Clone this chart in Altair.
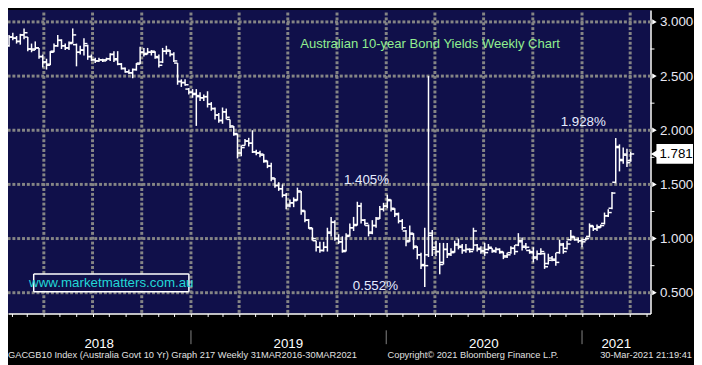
import altair as alt
import numpy as np
import pandas as pd

# ---------------- data (weekly OHLC, week ending Fridays) ----------------
first_week = "2018-01-26"
opens = [2.78, 2.86, 2.85, 2.82, 2.88, 2.86, 2.75, 2.75, 2.76, 2.68,
         2.63, 2.61, 2.73, 2.78, 2.83, 2.78, 2.76, 2.81, 2.79, 2.72,
         2.74, 2.78, 2.68, 2.65, 2.64, 2.65, 2.65, 2.66, 2.70, 2.66,
         2.61, 2.57, 2.54, 2.53, 2.56, 2.62, 2.72, 2.71, 2.72, 2.72,
         2.67, 2.63, 2.73, 2.73, 2.70, 2.62, 2.45, 2.44, 2.38, 2.35,
         2.34, 2.31, 2.30, 2.31, 2.24, 2.20, 2.14, 2.09, 2.17, 2.10,
         2.03, 1.96, 1.79, 1.86, 1.90, 1.88, 1.80, 1.79, 1.77, 1.71,
         1.67, 1.55, 1.49, 1.46, 1.40, 1.31, 1.33, 1.36, 1.43, 1.25,
         1.17, 1.09, 0.98, 0.92, 0.89, 0.92, 1.06, 1.15, 1.00, 0.97,
         0.89, 1.03, 1.10, 1.13, 1.30, 1.17, 1.12, 1.06, 1.12, 1.19,
         1.27, 1.30, 1.35, 1.27, 1.22, 1.16, 1.07, 0.98, 1.04, 0.92,
         0.85, 0.76, 0.85, 1.05, 0.92, 0.88, 0.78, 0.90, 0.86, 0.88,
         0.95, 0.93, 0.89, 0.90, 0.90, 0.94, 0.91, 0.89, 0.90, 0.91,
         0.88, 0.90, 0.87, 0.84, 0.87, 0.91, 0.94, 0.98, 0.93, 0.89,
         0.88, 0.83, 0.86, 0.86, 0.77, 0.82, 0.80, 0.87, 0.94, 0.91,
         0.99, 1.01, 0.99, 0.98, 0.99, 1.02, 1.11, 1.09, 1.11, 1.14,
         1.21, 1.28, 1.52, 1.84, 1.72, 1.77, 1.72]
highs = [2.88, 2.90, 2.87, 2.89, 2.94, 2.86, 2.80, 2.82, 2.76, 2.70,
         2.66, 2.73, 2.80, 2.88, 2.84, 2.80, 2.82, 2.94, 2.80, 2.78,
         2.85, 2.79, 2.70, 2.67, 2.67, 2.66, 2.67, 2.71, 2.73, 2.73,
         2.62, 2.58, 2.56, 2.57, 2.62, 2.77, 2.76, 2.76, 2.74, 2.73,
         2.70, 2.76, 2.78, 2.74, 2.72, 2.62, 2.47, 2.47, 2.39, 2.38,
         2.38, 2.35, 2.33, 2.36, 2.26, 2.21, 2.16, 2.21, 2.20, 2.10,
         2.04, 1.97, 1.86, 1.92, 1.93, 2.00, 1.82, 1.81, 1.78, 1.72,
         1.70, 1.56, 1.52, 1.50, 1.42, 1.36, 1.38, 1.47, 1.44, 1.26,
         1.18, 1.10, 0.98, 0.97, 0.97, 1.10, 1.20, 1.17, 1.04, 1.02,
         1.05, 1.14, 1.20, 1.34, 1.33, 1.18, 1.13, 1.17, 1.20, 1.30,
         1.33, 1.405, 1.36, 1.28, 1.24, 1.18, 1.08, 1.12, 1.05, 0.93,
         0.87, 1.10, 2.50, 1.08, 0.98, 0.96, 0.96, 0.96, 0.91, 0.98,
         1.00, 0.95, 0.95, 0.91, 1.10, 0.95, 0.93, 0.96, 0.95, 0.91,
         0.92, 0.91, 0.88, 0.87, 0.93, 0.94, 1.05, 1.01, 0.96, 0.90,
         0.92, 0.89, 0.91, 0.87, 0.86, 0.84, 0.87, 0.99, 0.96, 0.98,
         1.08, 1.02, 1.01, 1.00, 1.01, 1.14, 1.12, 1.13, 1.13, 1.24,
         1.27, 1.43, 1.928, 1.87, 1.84, 1.83, 1.80]
lows = [2.77, 2.83, 2.80, 2.79, 2.84, 2.73, 2.72, 2.74, 2.66, 2.58,
        2.56, 2.60, 2.72, 2.77, 2.75, 2.74, 2.74, 2.80, 2.59, 2.70,
        2.69, 2.65, 2.64, 2.62, 2.63, 2.63, 2.64, 2.64, 2.63, 2.60,
        2.56, 2.53, 2.52, 2.48, 2.55, 2.61, 2.68, 2.70, 2.69, 2.66,
        2.58, 2.62, 2.70, 2.68, 2.63, 2.42, 2.40, 2.41, 2.33, 2.30,
        2.04, 2.27, 2.27, 2.21, 2.18, 2.10, 2.07, 2.06, 2.10, 2.02,
        1.95, 1.74, 1.76, 1.86, 1.85, 1.79, 1.77, 1.75, 1.70, 1.65,
        1.53, 1.47, 1.44, 1.38, 1.27, 1.29, 1.29, 1.35, 1.22, 1.15,
        1.09, 0.98, 0.88, 0.87, 0.88, 0.88, 1.02, 0.98, 0.95, 0.87,
        0.88, 1.02, 1.07, 1.12, 1.14, 1.12, 1.02, 1.04, 1.10, 1.18,
        1.25, 1.28, 1.25, 1.20, 1.14, 1.08, 0.93, 0.97, 0.90, 0.81,
        0.72, 0.552, 0.83, 0.84, 0.84, 0.67, 0.76, 0.82, 0.84, 0.87,
        0.90, 0.86, 0.87, 0.87, 0.89, 0.88, 0.86, 0.84, 0.89, 0.87,
        0.87, 0.86, 0.81, 0.82, 0.86, 0.85, 0.93, 0.89, 0.90, 0.86,
        0.78, 0.80, 0.85, 0.72, 0.76, 0.79, 0.75, 0.86, 0.86, 0.90,
        0.98, 0.98, 0.96, 0.92, 0.98, 1.01, 1.07, 1.07, 1.10, 1.13,
        1.20, 1.27, 1.51, 1.62, 1.69, 1.66, 1.71]
closes = [2.86, 2.85, 2.82, 2.88, 2.90, 2.75, 2.74, 2.76, 2.68, 2.63,
          2.60, 2.72, 2.78, 2.83, 2.78, 2.76, 2.80, 2.88, 2.72, 2.74,
          2.80, 2.68, 2.65, 2.64, 2.65, 2.64, 2.66, 2.70, 2.65, 2.61,
          2.57, 2.54, 2.53, 2.56, 2.61, 2.72, 2.70, 2.72, 2.73, 2.68,
          2.60, 2.73, 2.74, 2.70, 2.64, 2.45, 2.44, 2.42, 2.35, 2.33,
          2.32, 2.30, 2.31, 2.24, 2.20, 2.14, 2.09, 2.17, 2.12, 2.04,
          1.97, 1.79, 1.84, 1.90, 1.88, 1.80, 1.79, 1.78, 1.72, 1.67,
          1.56, 1.49, 1.46, 1.40, 1.30, 1.33, 1.35, 1.44, 1.26, 1.17,
          1.10, 1.00, 0.92, 0.89, 0.92, 1.05, 1.15, 1.00, 0.97, 0.88,
          1.02, 1.10, 1.12, 1.30, 1.17, 1.14, 1.05, 1.12, 1.18, 1.27,
          1.30, 1.36, 1.28, 1.23, 1.16, 1.10, 0.97, 1.05, 0.93, 0.85,
          0.75, 0.75, 1.03, 0.90, 0.88, 0.76, 0.90, 0.85, 0.87, 0.94,
          0.92, 0.89, 0.90, 0.88, 1.07, 0.90, 0.88, 0.87, 0.92, 0.89,
          0.90, 0.88, 0.83, 0.85, 0.91, 0.88, 0.97, 0.92, 0.92, 0.87,
          0.82, 0.86, 0.88, 0.74, 0.80, 0.81, 0.78, 0.95, 0.88, 0.95,
          1.02, 0.99, 0.98, 0.97, 1.00, 1.12, 1.09, 1.10, 1.12, 1.21,
          1.24, 1.42, 1.85, 1.73, 1.78, 1.70, 1.781]

y_ticks = [0.5, 1.0, 1.5, 2.0, 2.5, 3.0]
y_minor = [0.75, 1.25, 1.75, 2.25, 2.75]
years = [2018, 2019, 2020, 2021]
last_price = [1.781]

ann_labels = ["1.928%", "1.405%", "0.552%"]
ann_dates = ["2021-03-05", "2020-01-03", "2020-03-13"]
ann_values = [1.928, 1.405, 0.552]

title_text = "Australian 10-year Bond Yields Weekly Chart"
site_text = "www.marketmatters.com.au"
footer_left = "GACGB10 Index (Australia Govt 10 Yr) Graph 217  Weekly 31MAR2016-30MAR2021"
footer_mid = "Copyright\u00a9 2021 Bloomberg Finance L.P."
footer_right = "30-Mar-2021 21:19:41"

# ---------------- layout ----------------
W, H = 650, 307
NAVY = "#10104a"
GRID = "#858585"
FONT = "Liberation Sans"

dom_start = pd.Timestamp("2018-01-24")
dom_end = pd.Timestamp("2021-05-09")
Y_LO, Y_HI = 0.308, 3.1095

def dt(ts):
    ts = pd.Timestamp(ts)
    return alt.DateTime(year=ts.year, month=ts.month, date=ts.day)

xs = alt.Scale(domain=[dt(dom_start), dt(dom_end)])
ys = alt.Scale(domain=[Y_LO, Y_HI], zero=False, nice=False)

weeks = pd.date_range(first_week, periods=len(closes), freq="7D")
df = pd.DataFrame({"date": weeks, "open": opens, "high": highs, "low": lows, "close": closes})
quarters = pd.date_range("2018-04-01", "2021-04-01", freq="QS")

# dotted grid as small squares (horizontal at labelled yields, vertical at quarters)
dot_days = pd.date_range(dom_start + pd.Timedelta(days=2), dom_end, freq="9D")
h_dots = pd.DataFrame([(d, v) for v in y_ticks for d in dot_days], columns=["d", "v"])
dot_vals = np.arange(Y_LO + 0.02, Y_HI, 0.045)
v_dots = pd.DataFrame([(q, v) for q in quarters for v in dot_vals], columns=["d", "v"])
dots = pd.concat([h_dots, v_dots], ignore_index=True)

x_axis = alt.Axis(title=None, labels=False, grid=False, domainColor="white", domainWidth=1.5,
                  tickColor="white", tickSize=3, tickWidth=1,
                  tickCount=alt.TimeIntervalStep(interval="month", step=1))
y_axis = alt.Axis(title=None, orient="right", values=y_ticks, format=".3f", grid=False,
                  domainColor="white", domainWidth=1.5, ticks=False, labelColor="#e8e8f4",
                  labelFont=FONT, labelFontSize=13.5, labelPadding=9)

grid = alt.Chart(dots).mark_square(size=9, color=GRID, opacity=1).encode(
    x=alt.X("d:T", scale=xs, axis=x_axis), y=alt.Y("v:Q", scale=ys, axis=y_axis)
)

base = alt.Chart(df)
hl = base.mark_rule(color="white", strokeWidth=1.5).encode(
    x=alt.X("date:T", scale=xs), y=alt.Y("low:Q", scale=ys), y2="high:Q",
)
op = base.mark_rule(color="white", strokeWidth=1.5, xOffset=-3.5, x2Offset=0).encode(
    x=alt.X("date:T", scale=xs), x2="date:T", y=alt.Y("open:Q", scale=ys)
)
cl = base.mark_rule(color="white", strokeWidth=1.5, xOffset=0, x2Offset=3.5).encode(
    x=alt.X("date:T", scale=xs), x2="date:T", y=alt.Y("close:Q", scale=ys)
)

ann = pd.DataFrame({"t": ann_labels, "d": pd.to_datetime(ann_dates), "v": ann_values})
ann_style = dict(color="#e6ecff", font=FONT, fontSize=13.5, baseline="middle")
a1 = alt.Chart(ann.iloc[[0]]).mark_text(align="right", dx=-10, dy=-16, **ann_style).encode(
    x=alt.X("d:T", scale=xs), y=alt.Y("v:Q", scale=ys), text="t:N")
a2 = alt.Chart(ann.iloc[[1]]).mark_text(align="center", dx=-21, dy=-15, **ann_style).encode(
    x=alt.X("d:T", scale=xs), y=alt.Y("v:Q", scale=ys), text="t:N")
a3 = alt.Chart(ann.iloc[[2]]).mark_text(align="right", dx=-27, dy=-1, **ann_style).encode(
    x=alt.X("d:T", scale=xs), y=alt.Y("v:Q", scale=ys), text="t:N")

# right-axis markers
major = alt.Chart(pd.DataFrame({"v": y_ticks})).mark_point(
    shape="triangle-right", filled=True, color="white", size=28, opacity=1
).encode(x=alt.value(W + 4), y=alt.Y("v:Q", scale=ys))
minor = alt.Chart(pd.DataFrame({"v": y_minor})).mark_rule(color="white", strokeWidth=1).encode(
    x=alt.value(W), x2=alt.value(W + 4), y=alt.Y("v:Q", scale=ys))

lp = pd.DataFrame({"v": last_price, "t": [f"{last_price[0]:.3f}"]})
lp_box = alt.Chart(lp).mark_rect(color="white", yOffset=-10, y2Offset=10).encode(
    x=alt.value(W + 6), x2=alt.value(W + 43), y=alt.Y("v:Q", scale=ys), y2="v:Q")
lp_tip = alt.Chart(lp).mark_point(shape="triangle-left", filled=True, color="white",
                                  size=120, opacity=1).encode(
    x=alt.value(W + 5), y=alt.Y("v:Q", scale=ys))
lp_text = alt.Chart(lp).mark_text(
    align="left", baseline="middle", color="black", font=FONT, fontSize=13.5
).encode(x=alt.value(W + 9), y=alt.Y("v:Q", scale=ys), text="t:N")

# title and watermark
one = lambda s: pd.DataFrame({"t": [s]})
title = alt.Chart(one(title_text)).mark_text(
    align="center", baseline="alphabetic", color="#90ee90", font=FONT, fontSize=13.2
).encode(x=alt.value(427), y=alt.value(38), text="t:N")
bx0, bx1, by0, by1 = 26, 183, 267, 285
box_style = dict(color="white", strokeWidth=1.5)
b_top = alt.Chart(one("b")).mark_rule(**box_style).encode(
    x=alt.value(bx0), x2=alt.value(bx1), y=alt.value(by0))
b_bot = alt.Chart(one("b")).mark_rule(**box_style).encode(
    x=alt.value(bx0), x2=alt.value(bx1), y=alt.value(by1))
b_lft = alt.Chart(one("b")).mark_rule(**box_style).encode(
    x=alt.value(bx0), y=alt.value(by0), y2=alt.value(by1))
b_rgt = alt.Chart(one("b")).mark_rule(**box_style).encode(
    x=alt.value(bx1), y=alt.value(by0), y2=alt.value(by1))
site_bg = alt.Chart(one("b")).mark_rect(color=NAVY).encode(
    x=alt.value(bx0 + 1), x2=alt.value(bx1 - 1), y=alt.value(by0 + 1), y2=alt.value(by1 - 1))
site = alt.Chart(one(site_text)).mark_text(
    align="center", baseline="middle", color="#22d6d6", font=FONT, fontSize=13.5
).encode(x=alt.value(104.5), y=alt.value(276.5), text="t:N")

# footer: year labels, separators, info line
yr_df = pd.DataFrame({"y": [str(y) for y in years]})
yr_df["mid"] = [
    max(dom_start, pd.Timestamp(f"{y}-01-01"))
    + (min(dom_end, pd.Timestamp(f"{y}-12-31")) - max(dom_start, pd.Timestamp(f"{y}-01-01"))) / 2
    for y in years
]
yr_lbl = alt.Chart(yr_df).mark_text(
    align="center", baseline="middle", color="white", font=FONT, fontSize=13.5
).encode(x=alt.X("mid:T", scale=xs), y=alt.value(H + 31), text="y:N")
seps = alt.Chart(pd.DataFrame({"d": pd.to_datetime([f"{y}-01-01" for y in years[1:]])})).mark_rule(
    color=GRID, strokeWidth=1
).encode(x=alt.X("d:T", scale=xs), y=alt.value(H + 17), y2=alt.value(H + 31))

foot_style = dict(baseline="alphabetic", color="#e0e0e0", font=FONT, fontSize=9.4)
f1 = alt.Chart(one(footer_left)).mark_text(align="left", **foot_style).encode(
    x=alt.value(0), y=alt.value(H + 45), text="t:N")
f2 = alt.Chart(one(footer_mid)).mark_text(align="left", **foot_style).encode(
    x=alt.value(384), y=alt.value(H + 45), text="t:N")
f3 = alt.Chart(one(footer_right)).mark_text(align="right", **foot_style).encode(
    x=alt.value(692), y=alt.value(H + 45), text="t:N")

chart = alt.layer(
    grid, hl, op, cl, a1, a2, a3, major, minor, lp_box, lp_tip, lp_text,
    title, site_bg, b_top, b_bot, b_lft, b_rgt, site, yr_lbl, seps, f1, f2, f3
).properties(
    width=W, height=H, background="black",
    autosize=alt.AutoSizeParams(type="none"),
    padding={"left": 0, "top": 0, "right": 44, "bottom": 50},
).configure_view(fill=NAVY, stroke=None)

chart.save("out.html", embed_options={"renderer": "svg", "actions": False})
